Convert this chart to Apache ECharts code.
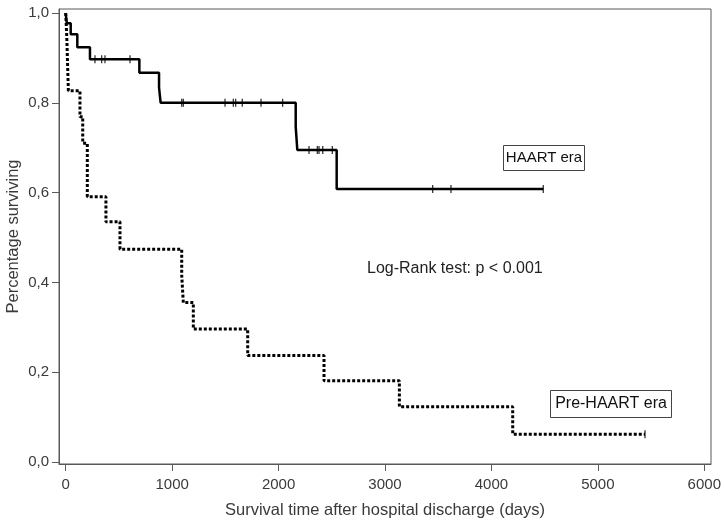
<!DOCTYPE html>
<html>
<head>
<meta charset="utf-8">
<script src="https://cdn.jsdelivr.net/npm/echarts@6/dist/echarts.min.js"></script>
<style>
  html, body { margin: 0; padding: 0; background: #fff; }
  #chart { width: 724px; height: 523px; }
</style>
</head>
<body>
<div id="chart"></div>
<script>
  // Kaplan-Meier curves, values (days, survival)
  const haartTime = [0, 10, 47, 109, 228, 692, 877, 892, 2161, 2176, 2546, 4487]
  const haartSurv = [1.0, 0.977, 0.953, 0.924, 0.897, 0.867, 0.834, 0.800, 0.747, 0.695, 0.608, 0.608]
  // censored observations (small vertical ticks)
  const haartCensTime = [275, 338, 369, 604, 1090, 1105, 1497, 1575, 1597, 1659, 1835, 2038,
    2286, 2364, 2380, 2415, 2505, 3448, 3620, 4487]
  const haartCensSurv = [0.897, 0.897, 0.897, 0.897, 0.800, 0.800, 0.800, 0.800, 0.800, 0.800, 0.800, 0.800,
    0.695, 0.695, 0.695, 0.695, 0.695, 0.608, 0.608, 0.608]

  const preTime = [0, 10, 25, 134, 160, 203, 378, 510, 1090, 1105, 1199, 1710, 2427, 3135, 4200, 5443]
  const preSurv = [1.0, 0.947, 0.827, 0.769, 0.710, 0.591, 0.535, 0.474, 0.416, 0.355, 0.296, 0.237, 0.181, 0.123, 0.062, 0.062]
  const preCensTime = [5443]
  const preCensSurv = [0.062]

  const xTicks = [0, 1000, 2000, 3000, 4000, 5000, 6000]
  const yTicks = [0, 0.2, 0.4, 0.6, 0.8, 1.0]

  const font = 'Liberation Sans, Arial, sans-serif'
  const axisColor = '#595959'
  const textColor = '#3a3a3a'

  const zip = (a, b) => a.map((v, i) => [v, b[i]])

  const chart = echarts.init(document.getElementById('chart'))
  chart.setOption({
    animation: false,
    backgroundColor: '#fff',
    grid: {
      left: 59, right: 13, top: 9, bottom: 59,
      outerBoundsMode: 'none',
      containLabel: false,
      show: true, borderColor: axisColor, borderWidth: 1
    },
    xAxis: {
      type: 'value',
      min: -63, max: 6063,
      name: 'Survival time after hospital discharge (days)',
      nameLocation: 'middle',
      nameGap: 38,
      nameMoveOverlap: false,
      nameTextStyle: {fontFamily: font, fontSize: 16.5, color: textColor},
      axisLine: {show: true, onZero: false, lineStyle: {color: axisColor, width: 1}},
      axisTick: {show: true, customValues: xTicks, length: 7, lineStyle: {color: axisColor}},
      axisLabel: {
        customValues: xTicks, margin: 13, fontFamily: font, fontSize: 15, color: textColor,
        formatter: v => String(v)
      },
      splitLine: {show: false}
    },
    yAxis: {
      type: 'value',
      min: -0.0045, max: 1.009,
      name: 'Percentage surviving',
      nameLocation: 'middle',
      nameGap: 37,
      nameMoveOverlap: false,
      nameTextStyle: {fontFamily: font, fontSize: 16.5, color: textColor},
      axisLine: {show: true, onZero: false, lineStyle: {color: axisColor, width: 1}},
      axisTick: {show: true, customValues: yTicks, length: 7, lineStyle: {color: axisColor}},
      axisLabel: {
        customValues: yTicks, margin: 10, fontFamily: font, fontSize: 15, color: textColor,
        formatter: v => v.toFixed(1).replace('.', ',')
      },
      splitLine: {show: false}
    },
    series: [
      {
        name: 'HAART era',
        type: 'line',
        step: 'end',
        data: zip(haartTime, haartSurv),
        showSymbol: false,
        lineStyle: {color: '#000', width: 2.5},
        z: 3
      },
      {
        name: 'Pre-HAART era',
        type: 'line',
        step: 'end',
        data: zip(preTime, preSurv),
        showSymbol: false,
        lineStyle: {color: '#000', width: 3, type: [3, 2]},
        z: 2
      },
      {
        type: 'scatter',
        data: zip(haartCensTime, haartCensSurv).concat(zip(preCensTime, preCensSurv)),
        symbol: 'rect',
        symbolSize: [1.3, 8],
        itemStyle: {color: '#000'},
        z: 4
      }
    ],
    graphic: [
      {
        type: 'rect',
        shape: {x: 503.5, y: 145.5, width: 81, height: 25},
        style: {fill: '#fff', stroke: '#444', lineWidth: 1}
      },
      {
        type: 'text',
        x: 544, y: 158,
        style: {text: 'HAART era', font: '15px ' + font, fill: '#111', align: 'center', verticalAlign: 'middle'}
      },
      {
        type: 'rect',
        shape: {x: 550.5, y: 390.5, width: 121, height: 27},
        style: {fill: '#fff', stroke: '#444', lineWidth: 1}
      },
      {
        type: 'text',
        x: 611, y: 404,
        style: {text: 'Pre-HAART era', font: '16px ' + font, fill: '#111', align: 'center', verticalAlign: 'middle'}
      },
      {
        type: 'text',
        x: 367, y: 269,
        style: {text: 'Log-Rank test: p < 0.001', font: '16px ' + font, fill: '#222', align: 'left', verticalAlign: 'middle'}
      }
    ]
  })
</script>
</body>
</html>
